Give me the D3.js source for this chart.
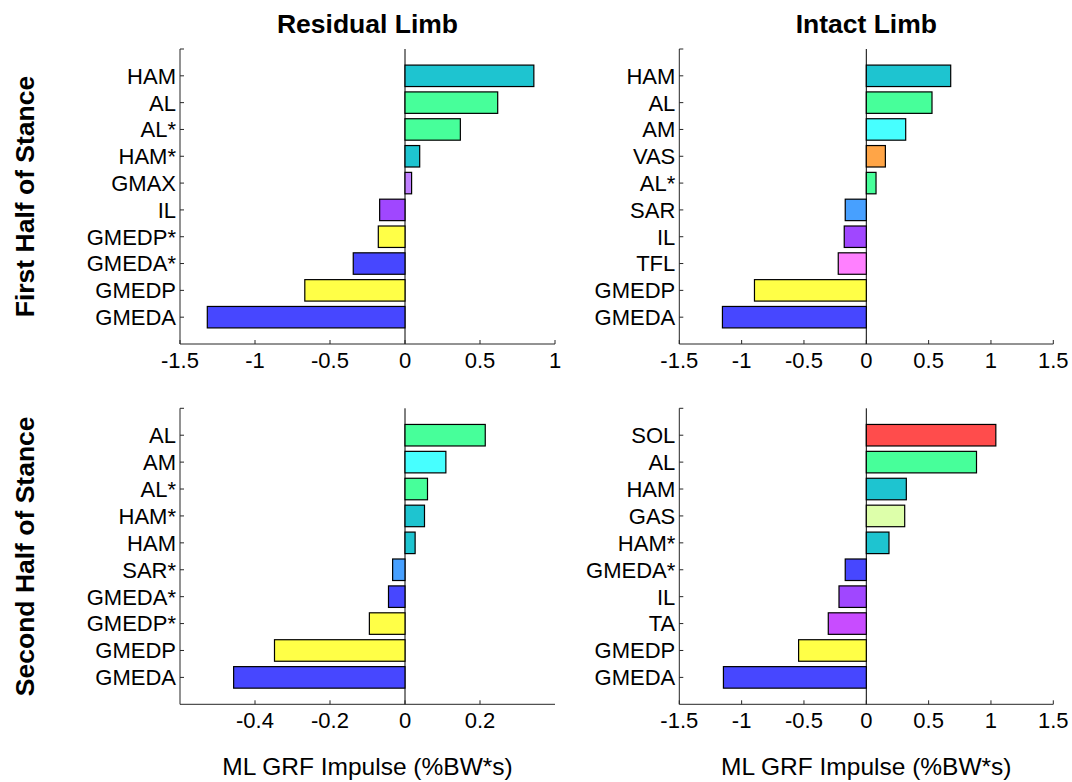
<!DOCTYPE html>
<html>
<head>
<meta charset="utf-8">
<script src="https://cdn.jsdelivr.net/npm/d3@7"></script>
<style>
  html, body { margin: 0; padding: 0; background: #fff; }
  svg { display: block; font-family: "Liberation Sans", Arial, sans-serif; }
</style>
</head>
<body>
<svg id="chart" width="1072" height="782"></svg>
<script>
// ---- Data (categories listed top to bottom) ----
const residualFirstMuscles = ["HAM", "AL", "AL*", "HAM*", "GMAX", "IL", "GMEDP*", "GMEDA*", "GMEDP", "GMEDA"];
const residualFirstValues  = [0.859, 0.618, 0.369, 0.098, 0.044, -0.169, -0.178, -0.345, -0.668, -1.318];

const intactFirstMuscles = ["HAM", "AL", "AM", "VAS", "AL*", "SAR", "IL", "TFL", "GMEDP", "GMEDA"];
const intactFirstValues  = [0.677, 0.527, 0.316, 0.153, 0.078, -0.169, -0.177, -0.225, -0.897, -1.154];

const residualSecondMuscles = ["AL", "AM", "AL*", "HAM*", "HAM", "SAR*", "GMEDA*", "GMEDP*", "GMEDP", "GMEDA"];
const residualSecondValues  = [0.214, 0.109, 0.060, 0.052, 0.027, -0.033, -0.044, -0.095, -0.348, -0.457];

const intactSecondMuscles = ["SOL", "AL", "HAM", "GAS", "HAM*", "GMEDA*", "IL", "TA", "GMEDP", "GMEDA"];
const intactSecondValues  = [1.039, 0.884, 0.321, 0.308, 0.182, -0.169, -0.219, -0.305, -0.543, -1.146];

const residualFirstTicks  = [-1.5, -1, -0.5, 0, 0.5, 1];
const intactTicks         = [-1.5, -1, -0.5, 0, 0.5, 1, 1.5];
const residualSecondTicks = [-0.4, -0.2, 0, 0.2];

const columnTitles = ["Residual Limb", "Intact Limb"];
const rowTitles = ["First Half of Stance", "Second Half of Stance"];
const xAxisTitle = "ML GRF Impulse (%BW*s)";

// ---- Styles ----
const muscleColor = {
  "HAM": "#1EC4D0", "AL": "#47FF9A", "AM": "#47FFFF", "VAS": "#FFA547",
  "SAR": "#47A0FF", "IL": "#A047FF", "TFL": "#FF80FF", "GMEDP": "#FFFF47",
  "GMEDA": "#4747FF", "GMAX": "#C080FF", "SOL": "#FF4C4C", "GAS": "#DDFFAA",
  "TA": "#C84CFF"
};
const colorOf = m => muscleColor[m.replace("*", "")];

const svg = d3.select("#chart");

const panels = [
  { muscles: residualFirstMuscles, values: residualFirstValues, domain: [-1.5, 1], ticks: residualFirstTicks,
    x0: 180, x1: 555, y0: 49, y1: 344 },
  { muscles: intactFirstMuscles, values: intactFirstValues, domain: [-1.5, 1.5], ticks: intactTicks,
    x0: 679.3, x1: 1053.3, y0: 49, y1: 344 },
  { muscles: residualSecondMuscles, values: residualSecondValues, domain: [-0.6, 0.4], ticks: residualSecondTicks,
    x0: 180, x1: 555, y0: 408.3, y1: 704.3 },
  { muscles: intactSecondMuscles, values: intactSecondValues, domain: [-1.5, 1.5], ticks: intactTicks,
    x0: 679.3, x1: 1053.3, y0: 408.3, y1: 704.3 }
];

const axisColor = "#262626";
const tickFont = 22;

panels.forEach(p => {
  const n = p.muscles.length;
  const x = d3.scaleLinear().domain(p.domain).range([p.x0, p.x1]);
  const y = d3.scaleLinear().domain([0, n + 1]).range([p.y1, p.y0]);
  const pos = i => n - i; // top item at position n
  const barH = 0.8;
  const g = svg.append("g");

  // zero line
  g.append("line")
    .attr("x1", x(0)).attr("x2", x(0))
    .attr("y1", y(0)).attr("y2", y(n + 1))
    .attr("stroke", "#000").attr("stroke-width", 1);

  // bars
  g.selectAll("rect.bar").data(p.values).join("rect")
    .attr("class", "bar")
    .attr("x", d => x(Math.min(0, d)))
    .attr("width", d => Math.abs(x(d) - x(0)))
    .attr("y", (d, i) => y(pos(i) + barH / 2))
    .attr("height", y(0) - y(barH))
    .attr("fill", (d, i) => colorOf(p.muscles[i]))
    .attr("stroke", "#000")
    .attr("stroke-width", 1.2);

  // x axis
  g.append("line").attr("x1", p.x0).attr("x2", p.x1).attr("y1", p.y1).attr("y2", p.y1)
    .attr("stroke", axisColor).attr("stroke-width", 1);
  g.selectAll("line.xt").data(p.ticks).join("line").attr("class", "xt")
    .attr("x1", d => x(d)).attr("x2", d => x(d))
    .attr("y1", p.y1).attr("y2", p.y1 - 4)
    .attr("stroke", axisColor);
  g.selectAll("text.xl").data(p.ticks).join("text").attr("class", "xl")
    .attr("x", d => x(d)).attr("y", p.y1 + 24)
    .attr("text-anchor", "middle")
    .attr("font-size", tickFont).attr("fill", "#000")
    .text(d => String(d));

  // y axis
  g.append("line").attr("x1", p.x0).attr("x2", p.x0).attr("y1", y(0)).attr("y2", y(n + 1))
    .attr("stroke", axisColor).attr("stroke-width", 1);
  g.append("line").attr("x1", p.x0).attr("x2", p.x0 + 4)
    .attr("y1", y(n + 1)).attr("y2", y(n + 1)).attr("stroke", axisColor);
  g.selectAll("line.yt").data(p.muscles).join("line").attr("class", "yt")
    .attr("x1", p.x0).attr("x2", p.x0 + 4)
    .attr("y1", (d, i) => y(pos(i))).attr("y2", (d, i) => y(pos(i)))
    .attr("stroke", axisColor);
  g.selectAll("text.yl").data(p.muscles).join("text").attr("class", "yl")
    .attr("x", p.x0 - 4).attr("y", (d, i) => y(pos(i)))
    .attr("dy", "0.36em")
    .attr("text-anchor", "end")
    .attr("font-size", tickFont).attr("fill", "#000")
    .text(d => d);
});

// column titles and x-axis titles
const colCenters = [(panels[0].x0 + panels[0].x1) / 2, (panels[1].x0 + panels[1].x1) / 2];
columnTitles.forEach((t, i) => {
  svg.append("text").attr("x", colCenters[i]).attr("y", 33)
    .attr("text-anchor", "middle").attr("font-weight", "bold")
    .attr("font-size", 26.5).text(t);
  svg.append("text").attr("x", colCenters[i]).attr("y", 775)
    .attr("text-anchor", "middle")
    .attr("font-size", 24.5).text(xAxisTitle);
});

// row titles
const rowCenters = [(panels[0].y0 + panels[0].y1) / 2, (panels[2].y0 + panels[2].y1) / 2];
rowTitles.forEach((t, i) => {
  svg.append("text")
    .attr("transform", `translate(34,${rowCenters[i]}) rotate(-90)`)
    .attr("text-anchor", "middle").attr("font-weight", "bold")
    .attr("font-size", 26.5).text(t);
});
</script>
</body>
</html>
